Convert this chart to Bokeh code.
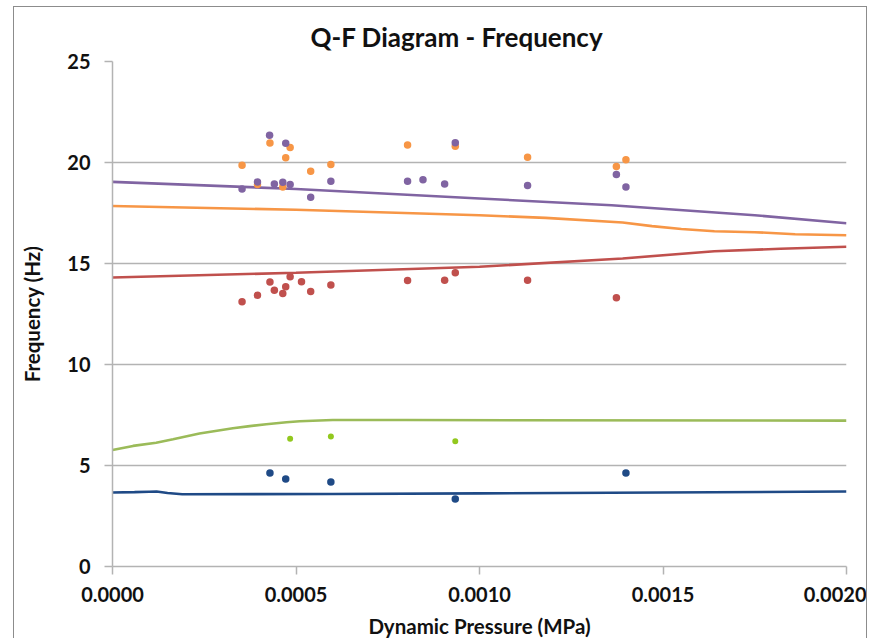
from bokeh.plotting import figure
from bokeh.models import NumeralTickFormatter, FixedTicker, Range1d, Title
from bokeh.embed import file_html
from bokeh.resources import INLINE

# Model predictions (lines) and measured frequencies (dots) vs dynamic pressure
mode1_line_x = [0.0, 0.00006, 0.0001, 0.00012, 0.00015, 0.00019, 0.0006, 0.0010, 0.0020]
mode1_line_y = [3.66, 3.68, 3.70, 3.71, 3.64, 3.58, 3.59, 3.62, 3.71]
mode1_pts_x = [0.000429, 0.000472, 0.000595, 0.000934, 0.001399]
mode1_pts_y = [4.63, 4.33, 4.18, 3.34, 4.63]

mode2_line_x = [0.0, 0.000056, 0.000119, 0.000165, 0.000237, 0.000328, 0.000374,
                0.000419, 0.000474, 0.00051, 0.0006, 0.0008, 0.0020]
mode2_line_y = [5.77, 5.97, 6.13, 6.30, 6.58, 6.84, 6.95,
                7.04, 7.14, 7.19, 7.25, 7.25, 7.22]
mode2_pts_x = [0.000484, 0.000595, 0.000934]
mode2_pts_y = [6.33, 6.43, 6.20]

mode3_line_x = [0.0, 0.0005, 0.0010, 0.00139, 0.00164, 0.00182, 0.0020]
mode3_line_y = [14.31, 14.54, 14.84, 15.25, 15.61, 15.73, 15.83]
mode3_pts_x = [0.000353, 0.000395, 0.000429, 0.000441, 0.000464, 0.000472, 0.000484,
               0.000515, 0.00054, 0.000595, 0.000804, 0.000905, 0.000934, 0.001131, 0.001373]
mode3_pts_y = [13.11, 13.43, 14.08, 13.68, 13.52, 13.85, 14.34,
               14.10, 13.62, 13.93, 14.16, 14.17, 14.54, 14.17, 13.30]

mode4_line_x = [0.0, 0.0005, 0.0010, 0.00118, 0.00139, 0.00147, 0.00155, 0.00164,
                0.00175, 0.00186, 0.0020]
mode4_line_y = [17.85, 17.66, 17.39, 17.26, 17.03, 16.85, 16.71, 16.60,
                16.55, 16.45, 16.40]
mode4_pts_x = [0.000353, 0.000395, 0.000429, 0.000464, 0.000472, 0.000484, 0.00054,
               0.000595, 0.000804, 0.000934, 0.001131, 0.001373, 0.001399]
mode4_pts_y = [19.86, 18.91, 20.97, 18.79, 20.23, 20.74, 19.57,
               19.90, 20.87, 20.80, 20.26, 19.80, 20.13]

mode5_line_x = [0.0, 0.0005, 0.0010, 0.00136, 0.00175, 0.0020]
mode5_line_y = [19.04, 18.69, 18.22, 17.88, 17.39, 16.99]
mode5_pts_x = [0.000353, 0.000395, 0.000428, 0.000441, 0.000464, 0.000472, 0.000484,
               0.00054, 0.000595, 0.000804, 0.000846, 0.000905, 0.000934, 0.001131,
               0.001373, 0.001399]
mode5_pts_y = [18.69, 19.04, 21.35, 18.94, 19.02, 20.95, 18.91,
               18.28, 19.07, 19.07, 19.14, 18.94, 20.98, 18.86,
               19.40, 18.79]

x_ticks = [0.0, 0.0005, 0.0010, 0.0015, 0.0020]
y_ticks = [0, 5, 10, 15, 20, 25]

FONT = "Lato"
GRID = "#b3b3b3"
TEXT = "#111111"

p = figure(width=854, height=633, output_backend="svg", toolbar_location=None,
           x_range=Range1d(0, 0.002), y_range=Range1d(0, 25),
           min_border_left=98, min_border_right=22, min_border_top=54,
           min_border_bottom=71, outline_line_color=None,
           background_fill_color="white", border_fill_color="white")
p.margin = (6, 0, 0, 13)
p.styles = {"border-top": "1.5px solid #8c8c8c", "border-left": "1.5px solid #8c8c8c",
            "border-right": "1.5px solid #8c8c8c"}

p.title = Title(text="Q-F Diagram - Frequency", align="left", offset=198,
                text_font=FONT, text_font_size="26px", text_font_style="bold",
                text_color=TEXT, standoff=17)

p.xgrid.grid_line_color = None
p.ygrid.grid_line_color = GRID
p.ygrid.grid_line_width = 1.5

for ax in (p.xaxis[0], p.yaxis[0]):
    ax.axis_line_color = GRID
    ax.axis_line_width = 1.5
    ax.major_tick_line_color = GRID
    ax.major_tick_line_width = 1.5
    ax.major_tick_in = 0
    ax.major_tick_out = 8
    ax.minor_tick_line_color = None
    ax.major_label_text_font = FONT
    ax.major_label_text_font_size = "20px"
    ax.major_label_text_font_style = "bold"
    ax.major_label_text_color = TEXT
    ax.axis_label_text_font = FONT
    ax.axis_label_text_font_size = "20.5px"
    ax.axis_label_text_font_style = "bold"
    ax.axis_label_text_color = TEXT

p.xaxis.ticker = FixedTicker(ticks=x_ticks)
p.yaxis.ticker = FixedTicker(ticks=y_ticks)
p.xaxis.formatter = NumeralTickFormatter(format="0.0000")
p.xaxis.axis_label = "Dynamic Pressure (MPa)"
p.yaxis.axis_label = "Frequency (Hz)"
p.xaxis.major_label_standoff = 12
p.yaxis.major_label_standoff = 14
p.xaxis.axis_label_standoff = 9
p.yaxis.axis_label_standoff = 20

LW = 2.6
p.line(mode1_line_x, mode1_line_y, line_color="#1f4a86", line_width=LW)
p.line(mode2_line_x, mode2_line_y, line_color="#9bbb59", line_width=LW)
p.line(mode3_line_x, mode3_line_y, line_color="#c0504d", line_width=LW)
p.line(mode4_line_x, mode4_line_y, line_color="#f79646", line_width=LW)
p.line(mode5_line_x, mode5_line_y, line_color="#8064a2", line_width=LW)

p.scatter(mode1_pts_x, mode1_pts_y, size=7.5, fill_color="#1f4a86", line_color=None)
p.scatter(mode2_pts_x, mode2_pts_y, size=6, fill_color="#92c81e", line_color=None)
p.scatter(mode3_pts_x, mode3_pts_y, size=7.5, fill_color="#c0504d", line_color=None)
p.scatter(mode4_pts_x, mode4_pts_y, size=7.5, fill_color="#f79646", line_color=None)
p.scatter(mode5_pts_x, mode5_pts_y, size=7.5, fill_color="#8064a2", line_color=None)

open("out.html", "w").write(file_html(p, INLINE))
